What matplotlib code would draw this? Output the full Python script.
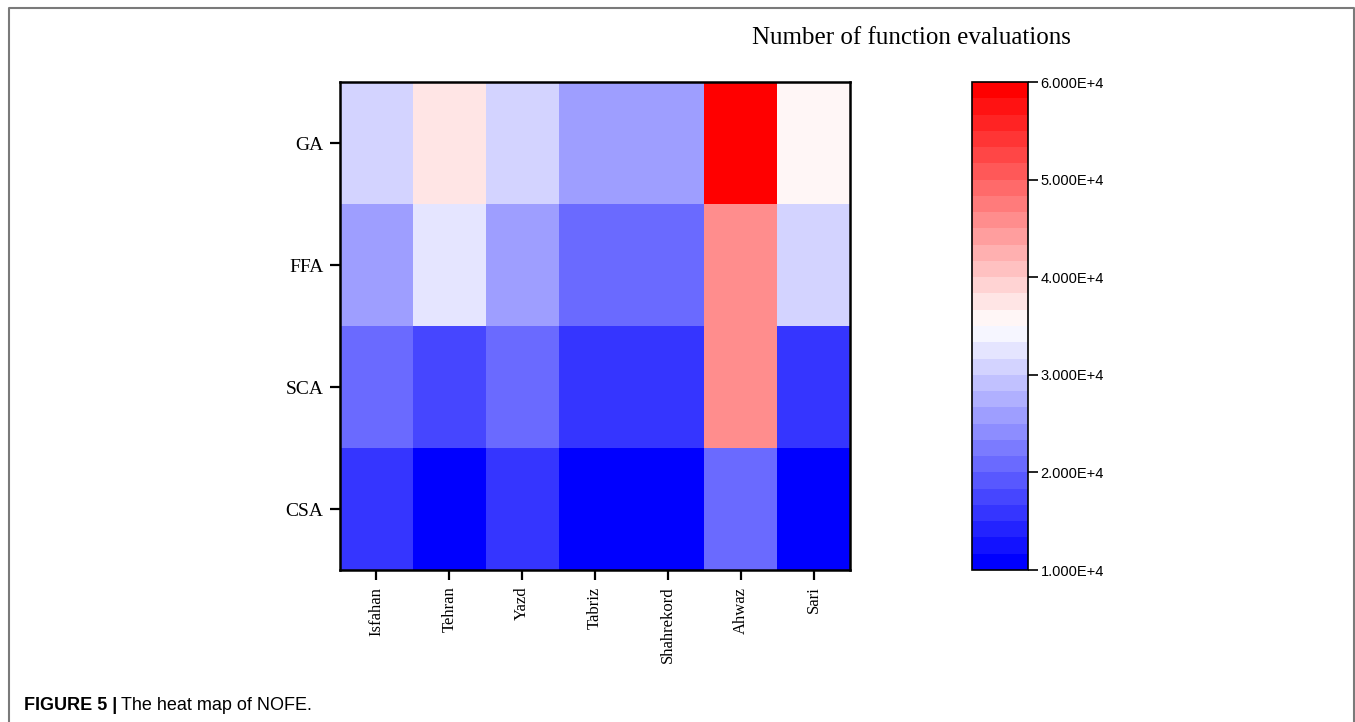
import numpy as np
import matplotlib
matplotlib.use('Agg')
import matplotlib.pyplot as plt
from matplotlib.colors import BoundaryNorm
from matplotlib.ticker import FuncFormatter, NullLocator

# Data (number of function evaluations)
cities = ['Isfahan', 'Tehran', 'Yazd', 'Tabriz', 'Shahrekord', 'Ahwaz', 'Sari']
algorithms = ['GA', 'FFA', 'SCA', 'CSA']
nofe_ga = [31000, 37500, 31000, 26000, 26000, 59500, 36000]
nofe_ffa = [26000, 32500, 26000, 21000, 21000, 46000, 31000]
nofe_sca = [21000, 17500, 21000, 16000, 16000, 46000, 16000]
nofe_csa = [16000, 10500, 16000, 10500, 10500, 21000, 10500]
cbar_ticks = [10000, 20000, 30000, 40000, 50000, 60000]

data = np.array([nofe_ga, nofe_ffa, nofe_sca, nofe_csa])

fig = plt.figure(figsize=(13.55, 7.22), dpi=100)

# border around the figure panel (no bottom edge)
fig.add_artist(plt.Line2D([0.0066, 0.0066, 0.9993, 0.9993], [0.0, 0.989, 0.989, 0.0],
                          color='#7a7a7a', lw=1.5, transform=fig.transFigure))

ax = fig.add_axes([0.2509, 0.2105, 0.3764, 0.6759])
levels = np.linspace(10000, 60000, 31)
cmap = plt.get_cmap('bwr', 30)
norm = BoundaryNorm(levels, cmap.N)
mesh = ax.pcolormesh(np.arange(len(cities) + 1), np.arange(len(algorithms) + 1), data[::-1],
                     cmap=cmap, norm=norm)

ax.set_xticks(np.arange(len(cities)) + 0.5)
ax.set_xticklabels(cities, rotation=90, fontsize=12, family='Liberation Serif')
ax.set_yticks(np.arange(len(algorithms)) + 0.5)
ax.set_yticklabels(algorithms[::-1], fontsize=14, family='Liberation Serif')
ax.tick_params(direction='out', length=7, width=1.6, pad=5)
for s in ax.spines.values():
    s.set_linewidth(1.8)

cax = fig.add_axes([0.7173, 0.2105, 0.0413, 0.6759])
cb = fig.colorbar(mesh, cax=cax, ticks=cbar_ticks)
cb.outline.set_linewidth(1.2)
cb.ax.yaxis.set_minor_locator(NullLocator())
cb.ax.yaxis.set_major_formatter(FuncFormatter(lambda v, p: '%.3fE+4' % (v / 1e4)))
cb.ax.tick_params(direction='out', length=7, width=1.2, labelsize=10.5, pad=2)
for lab in cb.ax.get_yticklabels():
    lab.set_family('Liberation Sans')

fig.text(0.6725, 0.948, 'Number of function evaluations', ha='center', va='center',
         fontsize=18, family='Liberation Serif')

fig.text(0.0175, 0.017, 'FIGURE 5 |', fontsize=13, fontweight='bold',
         family='Liberation Sans', va='baseline')
fig.text(0.0895, 0.017, 'The heat map of NOFE.', fontsize=13,
         family='Liberation Sans', va='baseline')

fig.savefig('out.png', dpi=100)
